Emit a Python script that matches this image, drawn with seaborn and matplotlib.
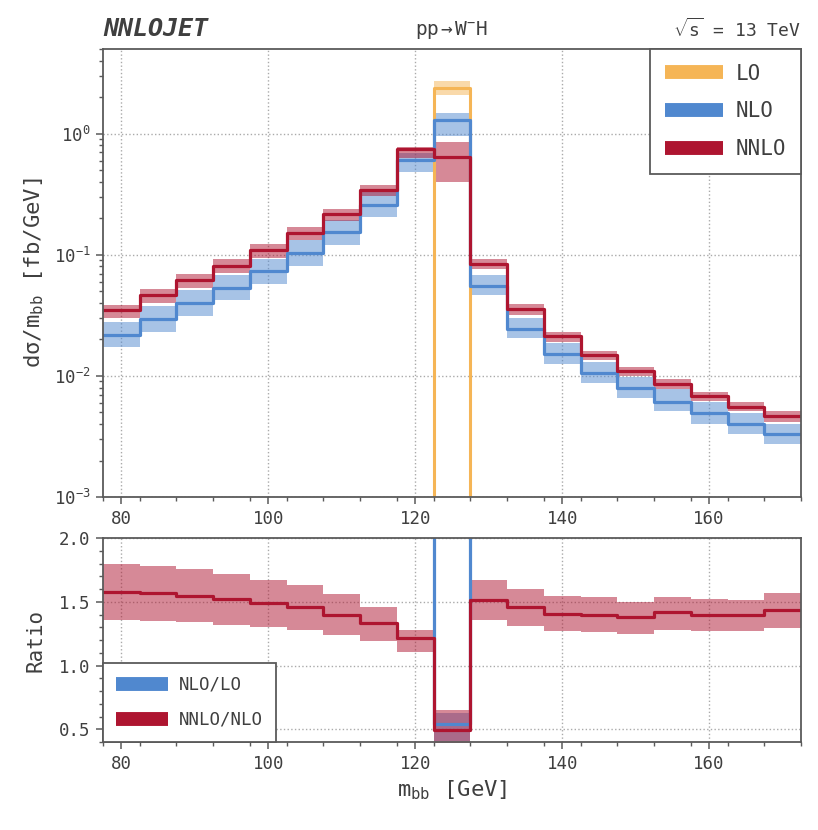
import numpy as np
import pandas as pd
import matplotlib
matplotlib.use("Agg")
import matplotlib.pyplot as plt
import seaborn as sns
from matplotlib.ticker import MultipleLocator, FixedLocator, LogLocator, NullFormatter
from matplotlib.lines import Line2D

# ---------------- data ----------------
edges = [77.5, 82.5, 87.5, 92.5, 97.5, 102.5, 107.5, 112.5, 117.5, 122.5,
         127.5, 132.5, 137.5, 142.5, 147.5, 152.5, 157.5, 162.5, 167.5, 172.5]

lo = [0, 0, 0, 0, 0, 0, 0, 0, 0, 2.37, 0, 0, 0, 0, 0, 0, 0, 0, 0]
lo_dn = [0, 0, 0, 0, 0, 0, 0, 0, 0, 2.10, 0, 0, 0, 0, 0, 0, 0, 0, 0]
lo_up = [0, 0, 0, 0, 0, 0, 0, 0, 0, 2.74, 0, 0, 0, 0, 0, 0, 0, 0, 0]

nlo = [0.0217, 0.0296, 0.0399, 0.0534, 0.0728, 0.103, 0.154, 0.257, 0.61, 1.29,
       0.0554, 0.0243, 0.0152, 0.0106, 0.0079, 0.00613, 0.00492, 0.00399, 0.0033]
nlo_dn = [0.0173, 0.0232, 0.0313, 0.042, 0.0573, 0.081, 0.121, 0.204, 0.48, 0.96,
          0.0464, 0.0204, 0.01256, 0.0088, 0.00653, 0.0051, 0.0040, 0.00332, 0.00274]
nlo_up = [0.0278, 0.038, 0.0514, 0.068, 0.0927, 0.133, 0.195, 0.33, 0.69, 1.48,
          0.068, 0.030, 0.0186, 0.0131, 0.00987, 0.00776, 0.00613, 0.00492, 0.0040]

nnlo = [0.0347, 0.0464, 0.0613, 0.081, 0.1086, 0.151, 0.217, 0.340, 0.747, 0.641,
        0.0843, 0.0356, 0.0214, 0.0149, 0.0110, 0.0086, 0.00684, 0.00558, 0.0047]
nnlo_dn = [0.030, 0.0403, 0.053, 0.0706, 0.0944, 0.132, 0.191, 0.307, 0.63, 0.40,
           0.076, 0.0319, 0.0192, 0.0134, 0.0100, 0.00776, 0.00625, 0.0051, 0.00419]
nnlo_up = [0.0386, 0.052, 0.069, 0.092, 0.1226, 0.168, 0.239, 0.374, 0.776, 0.848,
           0.092, 0.039, 0.0232, 0.0162, 0.0119, 0.0094, 0.0074, 0.00606, 0.00517]

# NNLO/NLO ratio
r_nnlo = [1.58, 1.567, 1.543, 1.52, 1.49, 1.457, 1.40, 1.332, 1.217, 0.495,
          1.512, 1.455, 1.405, 1.394, 1.381, 1.418, 1.40, 1.394, 1.433]
r_nnlo_dn = [1.36, 1.35, 1.34, 1.32, 1.30, 1.28, 1.24, 1.19, 1.105, 0.31,
             1.355, 1.31, 1.27, 1.264, 1.25, 1.28, 1.27, 1.27, 1.295]
r_nnlo_up = [1.80, 1.78, 1.76, 1.72, 1.67, 1.63, 1.56, 1.455, 1.28, 0.65,
             1.67, 1.60, 1.545, 1.537, 1.50, 1.537, 1.52, 1.517, 1.57]

# ---------------- style ----------------
C_LO = "#F5B556"
C_NLO = "#5088CF"
C_NNLO = "#AE1530"
TXT = "#3f3f3f"
SPN = "#5a5a5a"

sns.set_theme(style="ticks")
MONO = "DejaVu Sans Mono"
plt.rcParams["font.family"] = [MONO, "DejaVu Sans"]
plt.rcParams["mathtext.fontset"] = "custom"
plt.rcParams["mathtext.rm"] = MONO
plt.rcParams["mathtext.it"] = MONO + ":italic"
plt.rcParams["mathtext.bf"] = MONO + ":bold"
plt.rcParams["mathtext.default"] = "regular"
plt.rcParams["text.color"] = TXT
plt.rcParams["axes.labelcolor"] = TXT
plt.rcParams["xtick.color"] = SPN
plt.rcParams["ytick.color"] = SPN
plt.rcParams["xtick.labelcolor"] = TXT
plt.rcParams["ytick.labelcolor"] = TXT

fig = plt.figure(figsize=(8.18, 8.30), dpi=100)
ax1 = fig.add_axes([0.1259, 0.4012, 0.8533, 0.5398])
ax2 = fig.add_axes([0.1259, 0.1060, 0.8533, 0.2458])


def step(ax, vals, color, lw):
    df = pd.DataFrame({"x": edges, "y": list(vals) + [vals[-1]]})
    sns.lineplot(data=df, x="x", y="y", ax=ax, color=color, lw=lw,
                 drawstyle="steps-post", estimator=None, sort=False,
                 legend=False)


def band(ax, dn, up, color, alpha):
    for i in range(len(dn)):
        if np.isfinite(dn[i]) and np.isfinite(up[i]) and up[i] > 0:
            ax.fill_between([edges[i], edges[i + 1]], dn[i], up[i],
                            color=color, alpha=alpha, lw=0)


# ---- upper panel ----
band(ax1, lo_dn, lo_up, C_LO, 0.5)
step(ax1, lo, C_LO, 2.2)
band(ax1, nlo_dn, nlo_up, C_NLO, 0.5)
step(ax1, nlo, C_NLO, 2.3)
band(ax1, nnlo_dn, nnlo_up, C_NNLO, 0.5)
step(ax1, nnlo, C_NNLO, 2.3)
ax1.set_yscale("log", nonpositive="clip")
ax1.set_ylim(1e-3, 5)
ax1.set_xlim(edges[0], edges[-1])

# ---- lower panel ----
lo_arr = np.array(lo, dtype=float)
nlo_arr = np.array(nlo)
safe_lo = np.where(lo_arr > 0, lo_arr, 1.0)
r_nlo = np.where(lo_arr > 0, nlo_arr / safe_lo, 1e3)
r_nlo_dn = np.where(lo_arr > 0, np.array(nlo_dn) / safe_lo, np.nan)
r_nlo_up = np.where(lo_arr > 0, np.array(nlo_up) / safe_lo, np.nan)

band(ax2, r_nlo_dn, r_nlo_up, C_NLO, 0.5)
step(ax2, r_nlo, C_NLO, 2.3)
band(ax2, r_nnlo_dn, r_nnlo_up, C_NNLO, 0.5)
step(ax2, r_nnlo, C_NNLO, 2.3)
ax2.set_ylim(0.4, 2.0)
ax2.set_xlim(edges[0], edges[-1])

# ---- axes cosmetics ----
for ax in (ax1, ax2):
    for s in ax.spines.values():
        s.set_color(SPN)
        s.set_linewidth(1.3)
    ax.xaxis.set_major_locator(MultipleLocator(20))
    ax.xaxis.set_minor_locator(FixedLocator(edges))
    ax.tick_params(which="major", direction="out", length=5, width=1.1,
                   labelsize=12.5, pad=4)
    ax.tick_params(which="minor", direction="out", length=3, width=1.0)
    ax.grid(True, which="major", ls=":", color="#aaaaaa", lw=1.0)
    ax.set_axisbelow(True)
    ax.set_xlabel("")
    ax.set_ylabel("")

ax1.yaxis.set_major_locator(LogLocator(base=10, numticks=10))
ax1.yaxis.set_minor_locator(LogLocator(base=10, subs=np.arange(2, 10), numticks=20))
ax1.yaxis.set_minor_formatter(NullFormatter())

ax2.yaxis.set_major_locator(MultipleLocator(0.5))
ax2.yaxis.set_minor_locator(MultipleLocator(0.1))
ax2.set_yticks([0.5, 1.0, 1.5, 2.0])
ax2.set_yticklabels(["0.5", "1.0", "1.5", "2.0"])

ax1.set_ylabel(r"d$\sigma$/m$_{\mathrm{bb}}$ [fb/GeV]", fontsize=16)
ax2.set_ylabel("Ratio", fontsize=15)
ax2.set_xlabel(r"m$_{\mathrm{bb}}$ [GeV]", fontsize=16)
ax1.yaxis.set_label_coords(-0.082, 0.5)
ax2.yaxis.set_label_coords(-0.082, 0.5)

# titles
ax1.text(0.0, 1.018, "NNLOJET", transform=ax1.transAxes, ha="left",
         va="bottom", fontsize=18, fontweight="bold", fontstyle="italic")
ax1.text(0.5, 1.018, r"pp$\rightarrow$W$^{-}$H", transform=ax1.transAxes,
         ha="center", va="bottom", fontsize=14)
ax1.text(1.0, 1.018, r"$\sqrt{\mathrm{s}}$ = 13 TeV", transform=ax1.transAxes,
         ha="right", va="bottom", fontsize=13)

# legends
h1 = [Line2D([], [], color=C_LO, lw=10, solid_capstyle="butt"),
      Line2D([], [], color=C_NLO, lw=10, solid_capstyle="butt"),
      Line2D([], [], color=C_NNLO, lw=10, solid_capstyle="butt")]
leg1 = ax1.legend(h1, ["LO", "NLO", "NNLO"], loc="upper right",
                  borderaxespad=0, fontsize=15, handlelength=2.8,
                  frameon=True, fancybox=False, labelspacing=0.85,
                  borderpad=0.7, handletextpad=0.6)
leg1.get_frame().set_edgecolor(SPN)
leg1.get_frame().set_linewidth(1.3)
leg1.get_frame().set_alpha(1)

h2 = [Line2D([], [], color=C_NLO, lw=10, solid_capstyle="butt"),
      Line2D([], [], color=C_NNLO, lw=10, solid_capstyle="butt")]
leg2 = ax2.legend(h2, ["NLO/LO", "NNLO/NLO"], loc="lower left",
                  borderaxespad=0, fontsize=12.5, handlelength=3.0,
                  frameon=True, fancybox=False, labelspacing=1.0,
                  borderpad=0.75, handletextpad=0.6)
leg2.get_frame().set_edgecolor(SPN)
leg2.get_frame().set_linewidth(1.3)
leg2.get_frame().set_alpha(1)

fig.savefig("out.png", dpi=100)
